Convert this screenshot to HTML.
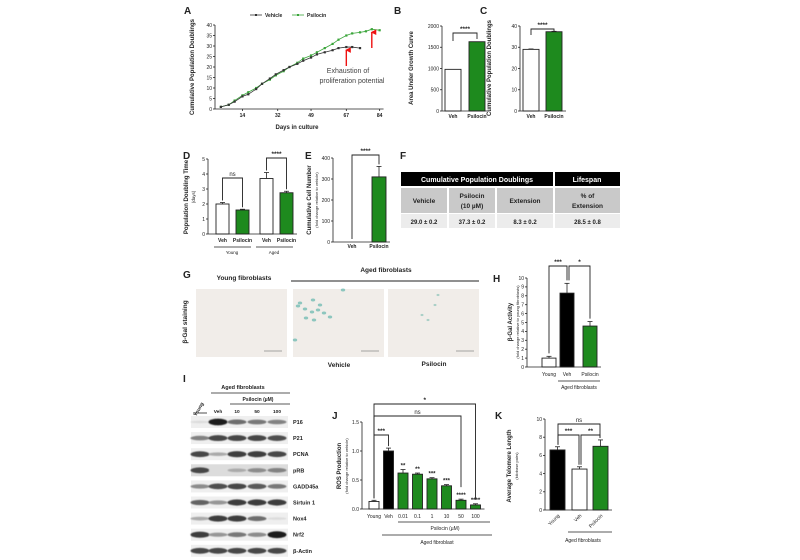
<!DOCTYPE html>
<html><head><meta charset="utf-8"><style>
html,body{margin:0;padding:0;background:#fff;}
svg{display:block;font-family:"Liberation Sans",Arial,sans-serif;}
</style></head><body>
<svg id="fig" width="800" height="560" viewBox="0 0 800 560" xmlns="http://www.w3.org/2000/svg">
<defs>
<marker id="ah" viewBox="0 0 10 10" refX="5" refY="2" markerWidth="4" markerHeight="4" orient="auto"><path d="M0,10 L5,0 L10,10 z" fill="#e11"/></marker>
<filter id="blur" x="-20%" y="-50%" width="140%" height="200%"><feGaussianBlur stdDeviation="0.6"/></filter>
</defs>
</svg>
<script>
// ---------- data ----------
const aVehDays=[3,7,10,14,17,21,24,28,31,35,38,42,45,49,52,56,60,63,67,70,74];
const aVehVals=[1,2,3.5,6,7,9.5,12,14.5,16.5,18.5,20,21.5,23,24.5,26,27,28,29,29.5,29.5,29];
const aPsiDays=[3,7,10,14,17,21,24,28,31,35,38,42,45,49,52,56,60,63,67,70,74,77,80,84];
const aPsiVals=[1,2,4,6.5,8,10,12,14,16,18,20,22,24,25.5,27,29,31,33,35,36,36.5,37,38,37.5];
const aXTicks=[14,32,49,67,84];
const aYTicks=[0,5,10,15,20,25,30,35,40];
const bCats=["Veh","Psilocin"];const bVals=[980,1630];const bTicks=[0,500,1000,1500,2000];
const cCats=["Veh","Psilocin"];const cVals=[29,37.3];const cTicks=[0,10,20,30,40];
const dCats=["Veh","Psilocin","Veh","Psilocin"];const dVals=[2.0,1.6,3.7,2.75];const dErr=[0.1,0.05,0.4,0.1];const dTicks=[0,1,2,3,4,5];
const eCats=["Veh","Psilocin"];const eVals=[0,310];const eErr=[0,50];const eTicks=[0,100,200,300,400];
const hCats=["Young","Veh","Psilocin"];const hVals=[1,8.3,4.6];const hErr=[0.2,1.1,0.5];const hTicks=[0,1,2,3,4,5,6,7,8,9,10];
const jCats=["Young","Veh","0.01","0.1","1","10","50","100"];const jVals=[0.13,1.0,0.62,0.6,0.52,0.4,0.15,0.07];const jErr=[0.02,0.05,0.06,0.02,0.02,0.02,0.02,0.02];
const jStars=["","","**","**","***","***","****","****"];const jTicks=[0,0.5,1.0,1.5];
const kCats=["Young","Veh","Psilocin"];const kVals=[6.6,4.5,7.0];const kErr=[0.35,0.25,0.7];const kTicks=[0,2,4,6,8,10];
const blotNames=["P16","P21","PCNA","pRB","GADD45a","Sirtuin 1","Nox4","Nrf2","β-Actin"];
const blotInt=[[0.05,1,0.6,0.55,0.5],[0.5,0.8,0.8,0.8,0.75],[0.8,0.3,0.85,0.85,0.8],[0.8,0.05,0.3,0.45,0.5],[0.45,0.75,0.8,0.7,0.55],[0.65,0.4,0.85,0.85,0.85],[0.3,0.85,0.85,0.6,0.05],[0.85,0.4,0.55,0.45,1],[0.8,0.8,0.8,0.8,0.8]];
// ---------- helpers ----------
const svg=document.getElementById('fig');const NS="http://www.w3.org/2000/svg";const G="#1e8a1e";
function el(tag,at,name,parent){const e=document.createElementNS(NS,tag);for(const k in at)e.setAttribute(k,at[k]);


(parent||svg).appendChild(e);return e;}
function tx(x,y,s,size,name,opt){opt=opt||{};const e=el('text',{x:x,y:y,'font-size':size,'text-anchor':opt.a||'middle','font-weight':opt.w||'bold',fill:opt.f||'#222'},name);
if(opt.r!==undefined)e.setAttribute('transform','rotate('+opt.r+' '+x+' '+y+')');e.textContent=s;return e;}
function ln(x1,y1,x2,y2,name,w,c){return el('line',{x1:x1,y1:y1,x2:x2,y2:y2,stroke:c||'#222','stroke-width':w||0.8},name);}
function yAxis(ax,y0,ppu,ticks,name,fmt){ln(ax,y0,ax,y0-ppu*ticks[ticks.length-1],name+'-y-axis');
ticks.forEach(t=>{const y=y0-t*ppu;ln(ax-2,y,ax,y,name+'-y-tick');tx(ax-3,y+1.8,fmt?fmt(t):String(t),5,name+'-y-tick-label',{a:'end',w:'normal'});});}
function bracket(x1,x2,y,d1,d2,label,name){el('path',{d:'M'+x1+','+(y+d1)+' V'+y+' H'+x2+' V'+(y+d2),fill:'none',stroke:'#222','stroke-width':0.9},name);
tx((x1+x2)/2,y-2,label,label==='ns'?6:6.5,name+'-label',{w:label==='ns'?'normal':'bold'});}
function bars(ax,y0,ppu,vals,errs,lefts,w,fills,name){const tops=[];vals.forEach((v,i)=>{const h=v*ppu;
el('rect',{x:lefts[i],y:y0-h,width:w,height:h,fill:fills[i],stroke:'#222','stroke-width':0.9},name+'-bar-'+i);
let top=y0-h;if(errs&&errs[i]){const e=errs[i]*ppu;const cx=lefts[i]+w/2;ln(cx,y0-h,cx,y0-h-e,name+'-error-bar');ln(cx-2.5,y0-h-e,cx+2.5,y0-h-e,name+'-error-cap');top=y0-h-e;}tops.push(top);});
ln(ax,y0,lefts[lefts.length-1]+w+4,y0,name+'-x-axis');return tops;}
// ---------- Panel A ----------
tx(184,14,'A',10,'panel-a-label',{a:'start'});
const ax0=215,ay0=109,axp=1.96,ayp=2.1;
const X=d=>ax0+d*axp,Y=v=>ay0-v*ayp;
ln(ax0,ay0,ax0,Y(40),'a-y-axis');ln(ax0,ay0,X(86),ay0,'a-x-axis');
aYTicks.forEach(t=>{ln(ax0-2,Y(t),ax0,Y(t),'a-y-tick');tx(ax0-3,Y(t)+1.8,String(t),5,'a-y-tick-label',{a:'end',w:'normal'});});
aXTicks.forEach(t=>{ln(X(t),ay0,X(t),ay0+2,'a-x-tick');tx(X(t),ay0+8,String(t),5,'a-x-tick-label');});
tx(297,129,'Days in culture',6,'a-x-axis-title');
tx(194,67,'Cumulative Population Doublings',6,'a-y-axis-title',{r:-90});
function series(days,vals,col,name){el('polyline',{points:days.map((d,i)=>X(d)+','+Y(vals[i])).join(' '),fill:'none',stroke:col,'stroke-width':0.8},name+'-line');
days.forEach((d,i)=>el('rect',{x:X(d)-1.1,y:Y(vals[i])-1.1,width:2.2,height:2.2,fill:col},name+'-point'));}
series(aPsiDays,aPsiVals,'#3aa53a','psilocin-series');series(aVehDays,aVehVals,'#333','vehicle-series');
ln(250,15,262,15,'legend-vehicle-line',0.8,'#333');el('rect',{x:255,y:14,width:2,height:2,fill:'#333'},'legend-vehicle-marker');tx(265,17,'Vehicle',5,'legend-vehicle',{a:'start'});
ln(292,15,304,15,'legend-psilocin-line',0.8,'#3aa53a');el('rect',{x:297,y:14,width:2,height:2,fill:'#3aa53a'},'legend-psilocin-marker');tx(307,17,'Psilocin',5,'legend-psilocin',{a:'start'});
ln(X(67),66,X(67),Y(29.5)+3,'arrow-vehicle',1.4,'#e11').setAttribute('marker-end','url(#ah)');
ln(X(80),48,X(80),Y(38)+3,'arrow-psilocin',1.4,'#e11').setAttribute('marker-end','url(#ah)');
tx(348,73,'Exhaustion of',7,'annotation-line1',{w:'normal',f:'#444'});tx(352,83,'proliferation potential',7,'annotation-line2',{w:'normal',f:'#444'});
// ---------- Panel B ----------
tx(394,14,'B',10,'panel-b-label',{a:'start'});
yAxis(442,111,85/2000,bTicks,'b');
bars(442,111,85/2000,bVals,null,[445,469],16,['#fff',G],'b');
bCats.forEach((c,i)=>tx([453,477][i],118,c,5,'b-x-label'));
bracket(453,477,33,8,6,'****','b-bracket');
tx(413,68,'Area Under Growth Curve',6,'b-y-axis-title',{r:-90});
// ---------- Panel C ----------
tx(480,14,'C',10,'panel-c-label',{a:'start'});
yAxis(520,111,85/40,cTicks,'c');
bars(520,111,85/40,cVals,[0.2,0.2],[523,546],16,['#fff',G],'c');
cCats.forEach((c,i)=>tx([531,554][i],118,c,5,'c-x-label'));
bracket(531,554,29,6,3,'****','c-bracket');
tx(491,68,'Cumulative Population Doublings',6,'c-y-axis-title',{r:-90});
// ---------- Panel D ----------
tx(183,159,'D',10,'panel-d-label',{a:'start'});
yAxis(208,234,15,dTicks,'d');
const dL=dVals.map((v,i)=>216+i*20+(i>=2?4:0));
const dT=bars(208,234,15,dVals,dErr,dL,13,['#fff',G,'#fff',G],'d');
dCats.forEach((c,i)=>tx(dL[i]+6.5,242,c,5,'d-x-label'));
ln(214,247,251,247,'d-young-line');tx(232,254,'Young',4.5,'d-young-label',{w:'normal'});
ln(256,247,293,247,'d-aged-line');tx(274,254,'Aged',4.5,'d-aged-label',{w:'normal'});
bracket(dL[0]+6.5,dL[1]+6.5,178,dT[0]-178-2,dT[1]-178-2,'ns','d-ns-bracket');
bracket(dL[2]+6.5,dL[3]+6.5,158,dT[2]-158-2,dT[3]-158-2,'****','d-bracket');
tx(188,197,'Population Doubling Time',6,'d-y-axis-title',{r:-90});tx(195,197,'(days)',4.5,'d-y-subtitle',{r:-90,w:'normal'});
// ---------- Panel E ----------
tx(305,159,'E',10,'panel-e-label',{a:'start'});
yAxis(333,242,84/400,eTicks,'e');
const eT=bars(333,242,84/400,eVals,eErr,[345,372],14,['#fff',G],'e');
eCats.forEach((c,i)=>tx([352,379][i],248,c,5,'e-x-label'));
bracket(352,379,155,84,eT[1]-155-2,'****','e-bracket');
tx(311,200,'Cumulative Cell Number',6,'e-y-axis-title',{r:-90});tx(318,200,'(fold change relative to vehicle)',4,'e-y-subtitle',{r:-90,w:'normal'});
// ---------- Panel F ----------
tx(400,159,'F',10,'panel-f-label',{a:'start'});
el('rect',{x:401,y:172,width:152,height:14,fill:'#000'},'table-header-cpd');
el('rect',{x:555,y:172,width:65,height:14,fill:'#000'},'table-header-lifespan');
tx(477,182,'Cumulative Population Doublings',7,'table-header-cpd-text',{f:'#fff'});tx(587,182,'Lifespan',7,'table-header-lifespan-text',{f:'#fff'});
const fc=[[401,46],[449,46],[497,56],[555,65]];
const h2=[['Vehicle'],['Psilocin','(10 µM)'],['Extension'],['% of','Extension']];
const r3=['29.0 ± 0.2','37.3 ± 0.2','8.3 ± 0.2','28.5 ± 0.8'];
fc.forEach((c,i)=>{el('rect',{x:c[0],y:188,width:c[1],height:25,fill:'#c9c9c9'},'table-header2-cell');
el('rect',{x:c[0],y:214,width:c[1],height:14,fill:'#ececec'},'table-value-cell');
const cx=c[0]+c[1]/2;if(h2[i].length===1)tx(cx,203,h2[i][0],6.5,'table-header2-text');else{tx(cx,198,h2[i][0],6.5,'table-header2-text');tx(cx,208,h2[i][1],6.5,'table-header2-text');}
tx(cx,224,r3[i],6,'table-value-text');});
// ---------- Panel G ----------
tx(183,278,'G',10,'panel-g-label',{a:'start'});
tx(244,280,'Young fibroblasts',6.5,'g-young-title');tx(386,272,'Aged fibroblasts',6.5,'g-aged-title');
ln(291,281,479,281,'g-aged-line',1);
tx(187,322,'β-Gal staining',6.5,'g-y-label',{r:-90});
[[196,'young-image'],[293,'vehicle-image'],[388,'psilocin-image']].forEach(p=>{el('rect',{x:p[0],y:289,width:91,height:68,fill:'#f1ede9'},p[1]);
ln(p[0]+68,351,p[0]+86,351,p[1]+'-scale-bar',0.8,'#888');});
[[300,303],[305,309],[312,312],[318,310],[324,313],[330,317],[306,318],[314,320],[295,340],[320,305],[343,290],[313,300],[298,306]].forEach(s=>el('ellipse',{cx:s[0],cy:s[1],rx:2.2,ry:1.5,fill:'#3aa59a',opacity:0.55},'stained-cell'));
[[435,305],[422,315],[428,320],[438,295]].forEach(s=>el('ellipse',{cx:s[0],cy:s[1],rx:1.5,ry:1.1,fill:'#7bbcb0',opacity:0.6},'stained-cell'));
tx(339,367,'Vehicle',6.5,'g-vehicle-label');tx(434,366,'Psilocin',6.5,'g-psilocin-label');
// ---------- Panel H ----------
tx(493,282,'H',10,'panel-h-label',{a:'start'});
yAxis(527,367,8.9,hTicks,'h');
const hL=[542,560,583];
const hT=bars(527,367,8.9,hVals,hErr,hL,14,['#fff','#000',G],'h');
hCats.forEach((c,i)=>tx(hL[i]+7,376,c,5,'h-x-label',{w:'normal'}));
ln(558,381,600,381,'h-aged-line');tx(579,389,'Aged fibroblasts',5,'h-aged-label',{w:'normal'});
bracket(549,567,266,hT[0]-266-3,hT[1]-266-3,'***','h-bracket-1');
bracket(569,590,266,hT[1]-266-3,hT[2]-266-3,'*','h-bracket-2');
tx(512,322,'β-Gal Activity',6,'h-y-axis-title',{r:-90});tx(519,322,'(fold change relative to young fibroblasts)',4,'h-y-subtitle',{r:-90,w:'normal'});
// ---------- Panel I (blot) ----------
tx(183,382,'I',10,'panel-i-label',{a:'start'});
tx(243,389,'Aged fibroblasts',5.5,'i-aged-title');ln(211,393,290,393,'i-aged-line');
tx(258,401,'Psilocin (µM)',5,'i-psilocin-title');ln(230,404,290,404,'i-psilocin-line');
tx(200,410,'Young',5,'i-young-label',{r:-60});ln(193,413,207,413,'i-young-line');
const lanes=[200,218,237,257,277];
['Veh','10','50','100'].forEach((c,i)=>tx(lanes[i+1],413,c,4.8,'i-lane-label'));
blotNames.forEach((n,r)=>{const cy=422+r*16.1;
el('rect',{x:191,y:cy-6,width:97,height:12,fill:r===3?'#dcdcdc':'#efefef'},'blot-strip');
blotInt[r].forEach((v,j)=>{const g=Math.round(230-v*200);el('ellipse',{cx:lanes[j],cy:cy,rx:9.5,ry:1.2+v*2.2,fill:'rgb('+g+','+g+','+g+')',filter:'url(#blur)'},'blot-band');});
tx(293,cy+2,n,5.5,'blot-label-'+r,{a:'start'});});
// ---------- Panel J ----------
tx(332,419,'J',10,'panel-j-label',{a:'start'});
yAxis(362,509,58,jTicks,'j',t=>t.toFixed(1));
const jL=jVals.map((v,i)=>369+i*14.5);
const jT=bars(362,509,58,jVals,jErr,jL,10,jVals.map((v,i)=>i===0?'#fff':i===1?'#000':G),'j');
jCats.forEach((c,i)=>tx(jL[i]+5,518,c,5,'j-x-label',{w:'normal'}));
jStars.forEach((s,i)=>{if(s)tx(jL[i]+5,jT[i]-2,s,6,'j-star');});
bracket(jL[0]+5,jL[1]+5,435,jT[0]-437,jT[1]-437,'***','j-bracket-veh');
bracket(jL[0]+5,jL[6]+5,416,jT[0]-418,jT[6]-428,'ns','j-bracket-ns');
bracket(jL[0]+5,jL[7]+5,404,jT[0]-406,jT[7]-408,'*','j-bracket-star');
ln(398,522,490,522,'j-psilocin-line');tx(445,530,'Psilocin (µM)',5,'j-psilocin-label',{w:'normal'});
ln(382,535,492,535,'j-aged-line');tx(437,544,'Aged fibroblast',5,'j-aged-label',{w:'normal'});
tx(341,466,'ROS Production',6,'j-y-axis-title',{r:-90});tx(348,466,'(fold change relative to vehicle)',4,'j-y-subtitle',{r:-90,w:'normal'});
// ---------- Panel K ----------
tx(495,419,'K',10,'panel-k-label',{a:'start'});
yAxis(545,510,9.1,kTicks,'k');
const kL=[550,572,593];
const kT=bars(545,510,9.1,kVals,kErr,kL,15,['#000','#fff',G],'k');
kCats.forEach((c,i)=>tx(kL[i]+10,516,c,5,'k-x-label',{a:'end',w:'normal',r:-45}));
ln(568,532,612,532,'k-aged-line');tx(583,542,'Aged fibroblasts',5,'k-aged-label',{w:'normal'});
bracket(558,600,424,kT[0]-426,kT[2]-426,'ns','k-bracket-ns');
bracket(558,579,435,kT[0]-437,kT[1]-437,'***','k-bracket-1');
bracket(581,600,435,kT[1]-437,kT[2]-437,'**','k-bracket-2');
tx(511,466,'Average Telomere Length',6,'k-y-axis-title',{r:-90});tx(518,466,'(kilobase pairs)',4,'k-y-subtitle',{r:-90,w:'normal'});
</script>
</body></html>
